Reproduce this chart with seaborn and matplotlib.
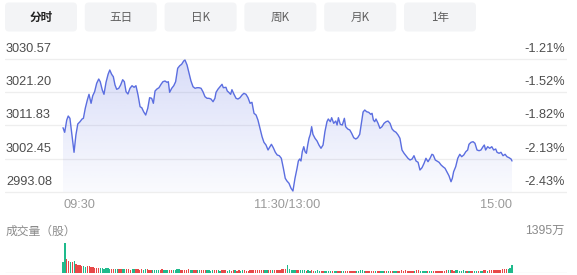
import numpy as np
import pandas as pd
import matplotlib
matplotlib.use("Agg")
import matplotlib.pyplot as plt
import seaborn as sns
from matplotlib.patches import FancyBboxPatch
from matplotlib.colors import LinearSegmentedColormap
from matplotlib.transforms import blended_transform_factory

# ---------------- data ----------------
tabs = ["分时", "五日", "日K", "周K", "月K", "1年"]
price_ticks = [3030.57, 3021.20, 3011.83, 3002.45, 2993.08]
pct_ticks = ["-1.21%", "-1.52%", "-1.82%", "-2.13%", "-2.43%"]
time_labels = ["09:30", "11:30/13:00", "15:00"]
time_label_minutes = [0, 120, 240]
vol_title = "成交量（股）"
vol_max_label = "1395万"
vol_max = 1395

price_minute = [
    0, 0.9, 2.0, 2.8, 3.7, 4.8, 5.9, 6.9, 7.9, 9.1, 10.2, 10.9, 11.9, 13.0, 13.9, 15.0,
    15.9, 16.9, 18.0, 19.1, 19.9, 21.0, 21.9, 23.0, 24.1, 25.0, 26.0, 26.9, 27.8, 28.7,
    29.8, 30.8, 31.9, 32.8, 33.7, 34.7, 35.8, 36.9, 38.0, 39.0, 40.1, 41.2, 42.1, 43.1,
    44.2, 45.3, 46.3, 47.4, 48.3, 49.2, 50.2, 51.3, 52.4, 53.4, 54.5, 55.6, 56.3, 57.0,
    58.1, 59.2, 60.2, 61.3, 62.4, 63.4, 64.5, 65.2, 66.3, 67.4, 68.4, 69.5, 70.6, 71.6,
    72.7, 73.8, 74.8, 75.9, 77.0, 78.0, 79.1, 80.2, 81.2, 81.8, 82.9, 83.9, 85.0, 85.7,
    87.1, 87.8, 88.6, 89.6, 90.3, 91.4, 92.5, 93.5, 94.6, 95.7, 96.7, 97.8, 98.9, 100.0,
    101.0, 102.1, 103.2, 104.2, 105.3, 106.4, 107.4, 108.5, 109.6, 110.3, 111.4, 112.4,
    113.5, 114.5, 115.6, 116.7, 117.8, 118.8, 119.7, 120.8, 121.9, 122.9, 124.0, 125.1,
    125.8, 126.5, 127.2, 127.9, 128.7, 129.4, 130.1, 130.8, 131.5, 132.2, 132.9, 133.6,
    134.7, 135.8, 136.8, 137.9, 139.0, 140.0, 141.1, 141.8, 142.9, 143.6, 144.7, 145.8,
    146.5, 147.2, 148.2, 149.3, 150.4, 151.1, 152.2, 153.3, 154.3, 155.4, 156.5, 157.5,
    158.6, 159.6, 160.4, 161.3, 162.3, 163.4, 164.5, 165.2, 165.9, 166.6, 167.3, 168.4,
    169.4, 170.5, 171.6, 172.7, 173.7, 174.8, 175.9, 176.9, 178.0, 179.1, 180.1, 181.2,
    182.3, 183.3, 184.4, 185.5, 186.6, 187.6, 188.7, 189.8, 190.8, 191.9, 193.0, 194.0,
    195.1, 196.2, 197.2, 197.9, 199.0, 199.9, 201.0, 202.1, 203.1, 204.2, 205.3, 206.3,
    207.4, 208.1, 208.8, 209.9, 211.0, 212.1, 213.1, 214.2, 215.3, 216.3, 217.0, 218.1,
    219.2, 220.2, 221.3, 222.4, 223.4, 224.5, 225.2, 225.9, 227.0, 228.1, 229.2, 230.2,
    231.3, 232.0, 233.1, 234.1, 235.2, 236.3, 237.3, 238.4, 239.5, 240.0,
]
price_value = [
    3011.20, 3009.91, 3013.37, 3014.50, 3013.85, 3009.15, 3004.27, 3009.15, 3012.25, 3012.90,
    3013.66, 3013.85, 3016.67, 3019.01, 3020.62, 3018.08, 3020.22, 3021.35, 3023.72, 3024.93,
    3024.17, 3021.83, 3020.62, 3024.00, 3026.26, 3027.47, 3026.26, 3025.58, 3023.24, 3022.03,
    3022.31, 3023.24, 3024.73, 3024.17, 3021.35, 3020.70, 3022.31, 3023.04, 3022.59, 3023.04,
    3020.42, 3017.12, 3016.84, 3015.71, 3014.78, 3016.67, 3019.66, 3019.49, 3018.08, 3021.55,
    3022.11, 3022.48, 3023.44, 3024.17, 3024.37, 3024.00, 3024.17, 3021.18, 3022.31, 3023.04,
    3024.17, 3027.95, 3028.68, 3029.08, 3030.01, 3030.29, 3028.88, 3026.54, 3024.37, 3022.76,
    3022.31, 3022.48, 3022.48, 3022.31, 3021.35, 3019.94, 3019.49, 3019.49, 3019.29, 3018.53,
    3019.49, 3021.18, 3022.11, 3022.76, 3023.44, 3022.48, 3022.59, 3021.55, 3021.18, 3020.62,
    3021.92, 3020.62, 3019.49, 3019.29, 3019.66, 3020.42, 3020.90, 3020.62, 3019.66, 3018.08,
    3018.36, 3015.26, 3014.78, 3013.37, 3011.03, 3008.67, 3007.09, 3006.33, 3004.92, 3005.57,
    3006.52, 3005.57, 3004.27, 3003.51, 3003.31, 3002.58, 2999.76, 2996.94, 2996.18, 2995.53,
    2994.12, 2993.36, 2996.94, 2999.76, 3001.82, 3002.38, 3001.82, 3004.44, 3005.85, 3004.44,
    3003.99, 3006.33, 3008.22, 3009.34, 3011.49, 3009.34, 3008.22, 3007.45, 3006.33, 3005.40,
    3006.33, 3010.08, 3012.90, 3013.66, 3012.90, 3014.02, 3012.44, 3013.09, 3011.96, 3014.02,
    3012.16, 3011.96, 3013.85, 3011.49, 3010.84, 3010.56, 3009.62, 3008.38, 3008.02, 3008.38,
    3009.34, 3012.81, 3015.63, 3016.19, 3015.71, 3015.54, 3014.98, 3015.26, 3013.37, 3012.90,
    3013.66, 3012.44, 3011.03, 3011.49, 3012.44, 3012.90, 3013.09, 3012.44, 3010.84, 3010.27,
    3009.91, 3009.15, 3008.22, 3004.92, 3003.99, 3003.31, 3002.58, 3002.10, 3002.38, 3003.31,
    3001.82, 3001.45, 2999.28, 2999.93, 3001.17, 3002.58, 3001.62, 3002.58, 3003.71, 3003.51,
    3002.10, 3001.82, 3001.45, 3000.69, 3000.21, 2999.76, 2998.63, 2997.67, 2995.98, 2996.94,
    2998.80, 3000.21, 3002.58, 3003.71, 3003.03, 3003.51, 3004.44, 3004.92, 3006.52, 3007.09,
    3007.26, 3006.81, 3004.92, 3004.72, 3004.92, 3005.85, 3006.33, 3004.92, 3005.85, 3005.40,
    3005.85, 3004.92, 3005.20, 3004.27, 3003.99, 3004.27, 3003.31, 3003.71, 3003.03, 3002.75,
    3002.38, 3001.82,
]

# volume per minute (万股), 241 bars
volume = [
    510, 1395, 650, 560, 520, 500, 540, 420, 380, 370,
    330, 300, 280, 320, 290, 250, 270, 240, 230, 200,
    210, 230, 190, 220, 200, 180, 170, 190, 160, 175,
    185, 170, 160, 150, 175, 165, 140, 155, 150, 170,
    160, 145, 150, 135, 160, 150, 140, 130, 145, 135,
    130, 140, 125, 150, 135, 120, 130, 125, 140, 120,
    135, 150, 165, 140, 130, 145, 125, 150, 135, 120,
    115, 125, 110, 130, 120, 105, 115, 125, 110, 100,
    110, 120, 105, 115, 100, 110, 120, 105, 95, 110,
    100, 115, 105, 95, 110, 100, 120, 105, 95, 100,
    110, 120, 130, 115, 125, 140, 130, 120, 135, 125,
    115, 130, 120, 110, 125, 140, 130, 150, 165, 180,
    360, 150, 130, 140, 120, 125, 115, 110, 120, 105,
    100, 110, 95, 105, 100, 90, 105, 95, 100, 90,
    95, 100, 90, 85, 95, 100, 90, 85, 95, 90,
    85, 90, 95, 80, 90, 85, 95, 90, 100, 110,
    105, 95, 90, 85, 95, 90, 85, 80, 90, 85,
    80, 85, 90, 80, 75, 85, 80, 90, 85, 95,
    100, 110, 95, 105, 100, 95, 90, 100, 95, 105,
    110, 100, 95, 90, 100, 95, 90, 85, 95, 90,
    95, 100, 90, 95, 100, 110, 105, 120, 115, 100,
    110, 105, 100, 95, 105, 100, 95, 100, 90, 95,
    100, 95, 90, 95, 100, 105, 110, 100, 105, 115,
    110, 120, 125, 130, 140, 150, 160, 175, 190, 210,
    380,
]
vol_dir = (
    "ggrrgrgrrr" "rggrrrrrrr" "ggggggrrgg" "rrggrrrggr" "rrrggrrrgg"
    "ggrrgggrrg" "gggrrrrrgg" "rrggrrrggg" "grrggrrrgg" "rrgrrggrrr"
    "rrrrrrrrgg" "rrgrrrrrrr" "gggggrrggg" "rggrrgggrr" "ggggrggrrg"
    "grrrrrrggg" "ggrrrrrgrr" "ggrrgrrggr" "rrrrrrrrgr" "rggggrggrr"
    "rrrrrrggrr" "ggggggrgrr" "ggrggrrgrr" "rrrrrrrrgg" "g"
)

# ---------------- style ----------------
LINE = "#5b6ee0"
RED = "#e84848"
GREEN = "#1fba8c"
GRID = "#eeeeee"

sns.set_theme(style="white")
plt.rcParams['font.family'] = ['Liberation Sans', 'Noto Sans CJK SC', 'DejaVu Sans']

W, H = 577, 275
fig = plt.figure(figsize=(W / 100, H / 100), dpi=100)
fig.patch.set_facecolor("white")

PX_PER_MIN = 449 / 240.0
XL = ((5 - 63) / PX_PER_MIN, (567 - 63) / PX_PER_MIN)

# background pixel axes (tabs and texts)
bg = fig.add_axes([0, 0, 1, 1], zorder=-5)
bg.set_xlim(0, W)
bg.set_ylim(H, 0)
bg.axis("off")

for i, t in enumerate(tabs):
    x = 5 + i * 79.8
    bg.add_patch(FancyBboxPatch((x, 2.5), 72, 29, boxstyle="round,pad=0,rounding_size=4",
                                fc="#f3f4f6", ec="none"))
    bg.text(x + 36, 17.5, t, ha="center", va="center", fontsize=8.4,
            color="#222222" if i == 0 else "#606060",
            fontweight="bold" if i == 0 else "normal",
            family=['Noto Sans CJK SC', 'DejaVu Sans'])

bg.text(6, 231, vol_title, ha="left", va="center", fontsize=8.5, color="#8a8a8a",
        family=['Noto Sans CJK SC', 'DejaVu Sans'])
bg.text(565, 231, vol_max_label, ha="right", va="center", fontsize=8.8, color="#8a8a8a")

# ---------------- price axes ----------------
UPP = (price_ticks[0] - price_ticks[-1]) / 133.0
ax = fig.add_axes([5 / W, 1 - 196 / H, 562 / W, 141 / H])
ylo, yhi = price_ticks[-1] - 4 * UPP, price_ticks[0] + 4 * UPP

for v in price_ticks:
    ax.axhline(v, color=GRID, lw=0.9, zorder=0)

df = pd.DataFrame({"minute": price_minute, "price": price_value})
poly = ax.fill_between(df["minute"], df["price"], price_ticks[-1], color="none", lw=0)
cmap = LinearSegmentedColormap.from_list(
    "g", [(91 / 255, 110 / 255, 225 / 255, 0.03), (91 / 255, 110 / 255, 225 / 255, 0.24)])
grad = np.linspace(0, 1, 256).reshape(-1, 1)
im = ax.imshow(grad, cmap=cmap, origin="lower", aspect="auto",
               extent=(0, 240, price_ticks[-1], price_ticks[0]), zorder=1,
               interpolation="bilinear")
im.set_clip_path(poly.get_paths()[0], transform=ax.transData)

sns.lineplot(data=df, x="minute", y="price", ax=ax, color=LINE, lw=1.0, zorder=3)

ax.set_xlim(*XL)
ax.set_ylim(ylo, yhi)
ax.axis("off")

tr_l = blended_transform_factory(ax.transAxes, ax.transData)
for v in price_ticks:
    ax.annotate(f"{v:.2f}", xy=(0, v), xycoords=tr_l, xytext=(1, 7),
                textcoords="offset pixels", ha="left", va="baseline",
                fontsize=9.2, color="#4d4d4d", annotation_clip=False)
for v, lbl in zip(price_ticks, pct_ticks):
    ax.annotate(lbl, xy=(1, v), xycoords=tr_l, xytext=(-2, 7),
                textcoords="offset pixels", ha="right", va="baseline",
                fontsize=9.2, color="#4d4d4d", annotation_clip=False)

tr_t = blended_transform_factory(ax.transData, fig.transFigure)
for m, lbl, ha in zip(time_label_minutes, time_labels, ["left", "center", "right"]):
    ax.annotate(lbl, xy=(m, 1 - 205 / H), xycoords=tr_t, ha=ha, va="center",
                fontsize=9.2, color="#9a9a9a", annotation_clip=False)

# ---------------- volume axes ----------------
VPP = vol_max / 30.0
ax2 = fig.add_axes([5 / W, 1 - 273 / H, 562 / W, 33 / H])
ax2.axhline(0, color="#e6e6e6", lw=0.9, zorder=0)
bar_minutes = list(range(len(volume)))
bar_colors = [RED if c == "r" else GREEN for c in vol_dir]
ax2.bar(bar_minutes, volume, width=0.72, color=bar_colors, linewidth=0, zorder=2)
ax2.set_xlim(*XL)
ax2.set_ylim(-0.3 * VPP, vol_max + 2.7 * VPP)
ax2.axis("off")

fig.savefig("out.png", dpi=100, facecolor="white")
